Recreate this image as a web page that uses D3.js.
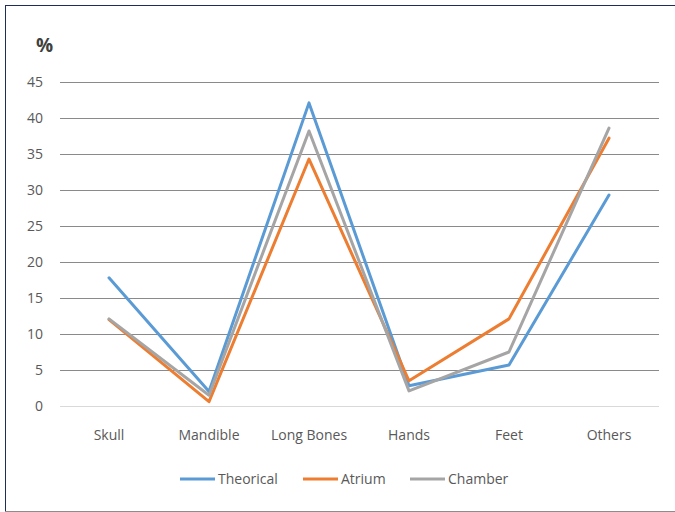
<!DOCTYPE html>
<html>
<head>
<meta charset="utf-8">
<script src="https://cdn.jsdelivr.net/npm/d3@7"></script>
<style>
  html, body { margin: 0; padding: 0; background: #fff; }
  svg { display: block; }
  text { font-family: "Open Sans", "Noto Sans", sans-serif; fill: #595959; }
</style>
</head>
<body>
<script>
// Bone categories and share (%) per context
const categories = ["Skull", "Mandible", "Long Bones", "Hands", "Feet", "Others"];
const theorical = [17.8, 2.0, 42.1, 2.8, 5.7, 29.3];
const atrium    = [12.0, 0.6, 34.3, 3.5, 12.1, 37.2];
const chamber   = [12.1, 1.5, 38.2, 2.1, 7.5, 38.6];
const yTicks = [0, 5, 10, 15, 20, 25, 30, 35, 40, 45];
const seriesNames = ["Theorical", "Atrium", "Chamber"];
const seriesColors = ["#5b9bd5", "#ed7d31", "#a5a5a5"];
const seriesValues = [theorical, atrium, chamber];

const W = 675, H = 512;
const svg = d3.select("body").append("svg").attr("width", W).attr("height", H);

// frame
svg.append("rect").attr("x", 5.5).attr("y", 5.5).attr("width", W + 10).attr("height", H - 6)
  .attr("fill", "none").attr("stroke", "#1f2d5a").attr("stroke-width", 1);
svg.append("line").attr("x1", 5).attr("x2", W).attr("y1", H - 0.5).attr("y2", H - 0.5)
  .attr("stroke", "#8c8c8c");

const x = d3.scaleBand().domain(categories).range([59, 659]);
const y = d3.scaleLinear().domain([0, 45]).range([406, 82]);

// gridlines
svg.append("g").selectAll("line").data(yTicks).join("line")
  .attr("x1", 60).attr("x2", 659)
  .attr("y1", d => Math.round(y(d)) + 0.5).attr("y2", d => Math.round(y(d)) + 0.5)
  .attr("stroke", d => d === 0 ? "#d9d9d9" : "#8a8a8a").attr("stroke-width", 1);

// y tick labels
svg.append("g").selectAll("text").data(yTicks).join("text")
  .attr("x", 43).attr("y", d => y(d) + 5)
  .attr("text-anchor", "end").attr("font-size", 14).text(d => d);

// category labels
svg.append("g").selectAll("text").data(categories).join("text")
  .attr("x", d => x(d) + x.bandwidth() / 2).attr("y", 440)
  .attr("text-anchor", "middle").attr("font-size", 14).text(d => d);

// unit label
svg.append("text").attr("x", 36).attr("y", 52).attr("font-size", 19)
  .attr("font-weight", "bold").style("fill", "#404040").text("%");

// series lines
const line = d3.line()
  .x((d, i) => x(categories[i]) + x.bandwidth() / 2)
  .y(d => y(d));
svg.append("g").selectAll("path").data(seriesValues).join("path")
  .attr("d", d => line(d))
  .attr("fill", "none")
  .attr("stroke", (d, i) => seriesColors[i])
  .attr("stroke-width", 3)
  .attr("stroke-linejoin", "round")
  .attr("stroke-linecap", "round");

// legend
const legendX = [180, 303, 410];
const lg = svg.append("g").selectAll("g").data(seriesNames).join("g")
  .attr("transform", (d, i) => `translate(${legendX[i]},479)`);
lg.append("line").attr("x1", 0).attr("x2", 35).attr("y1", 0).attr("y2", 0)
  .attr("stroke", (d, i) => seriesColors[i]).attr("stroke-width", 3);
lg.append("text").attr("x", 38).attr("y", 5).attr("font-size", 14).text(d => d);
</script>
</body>
</html>
